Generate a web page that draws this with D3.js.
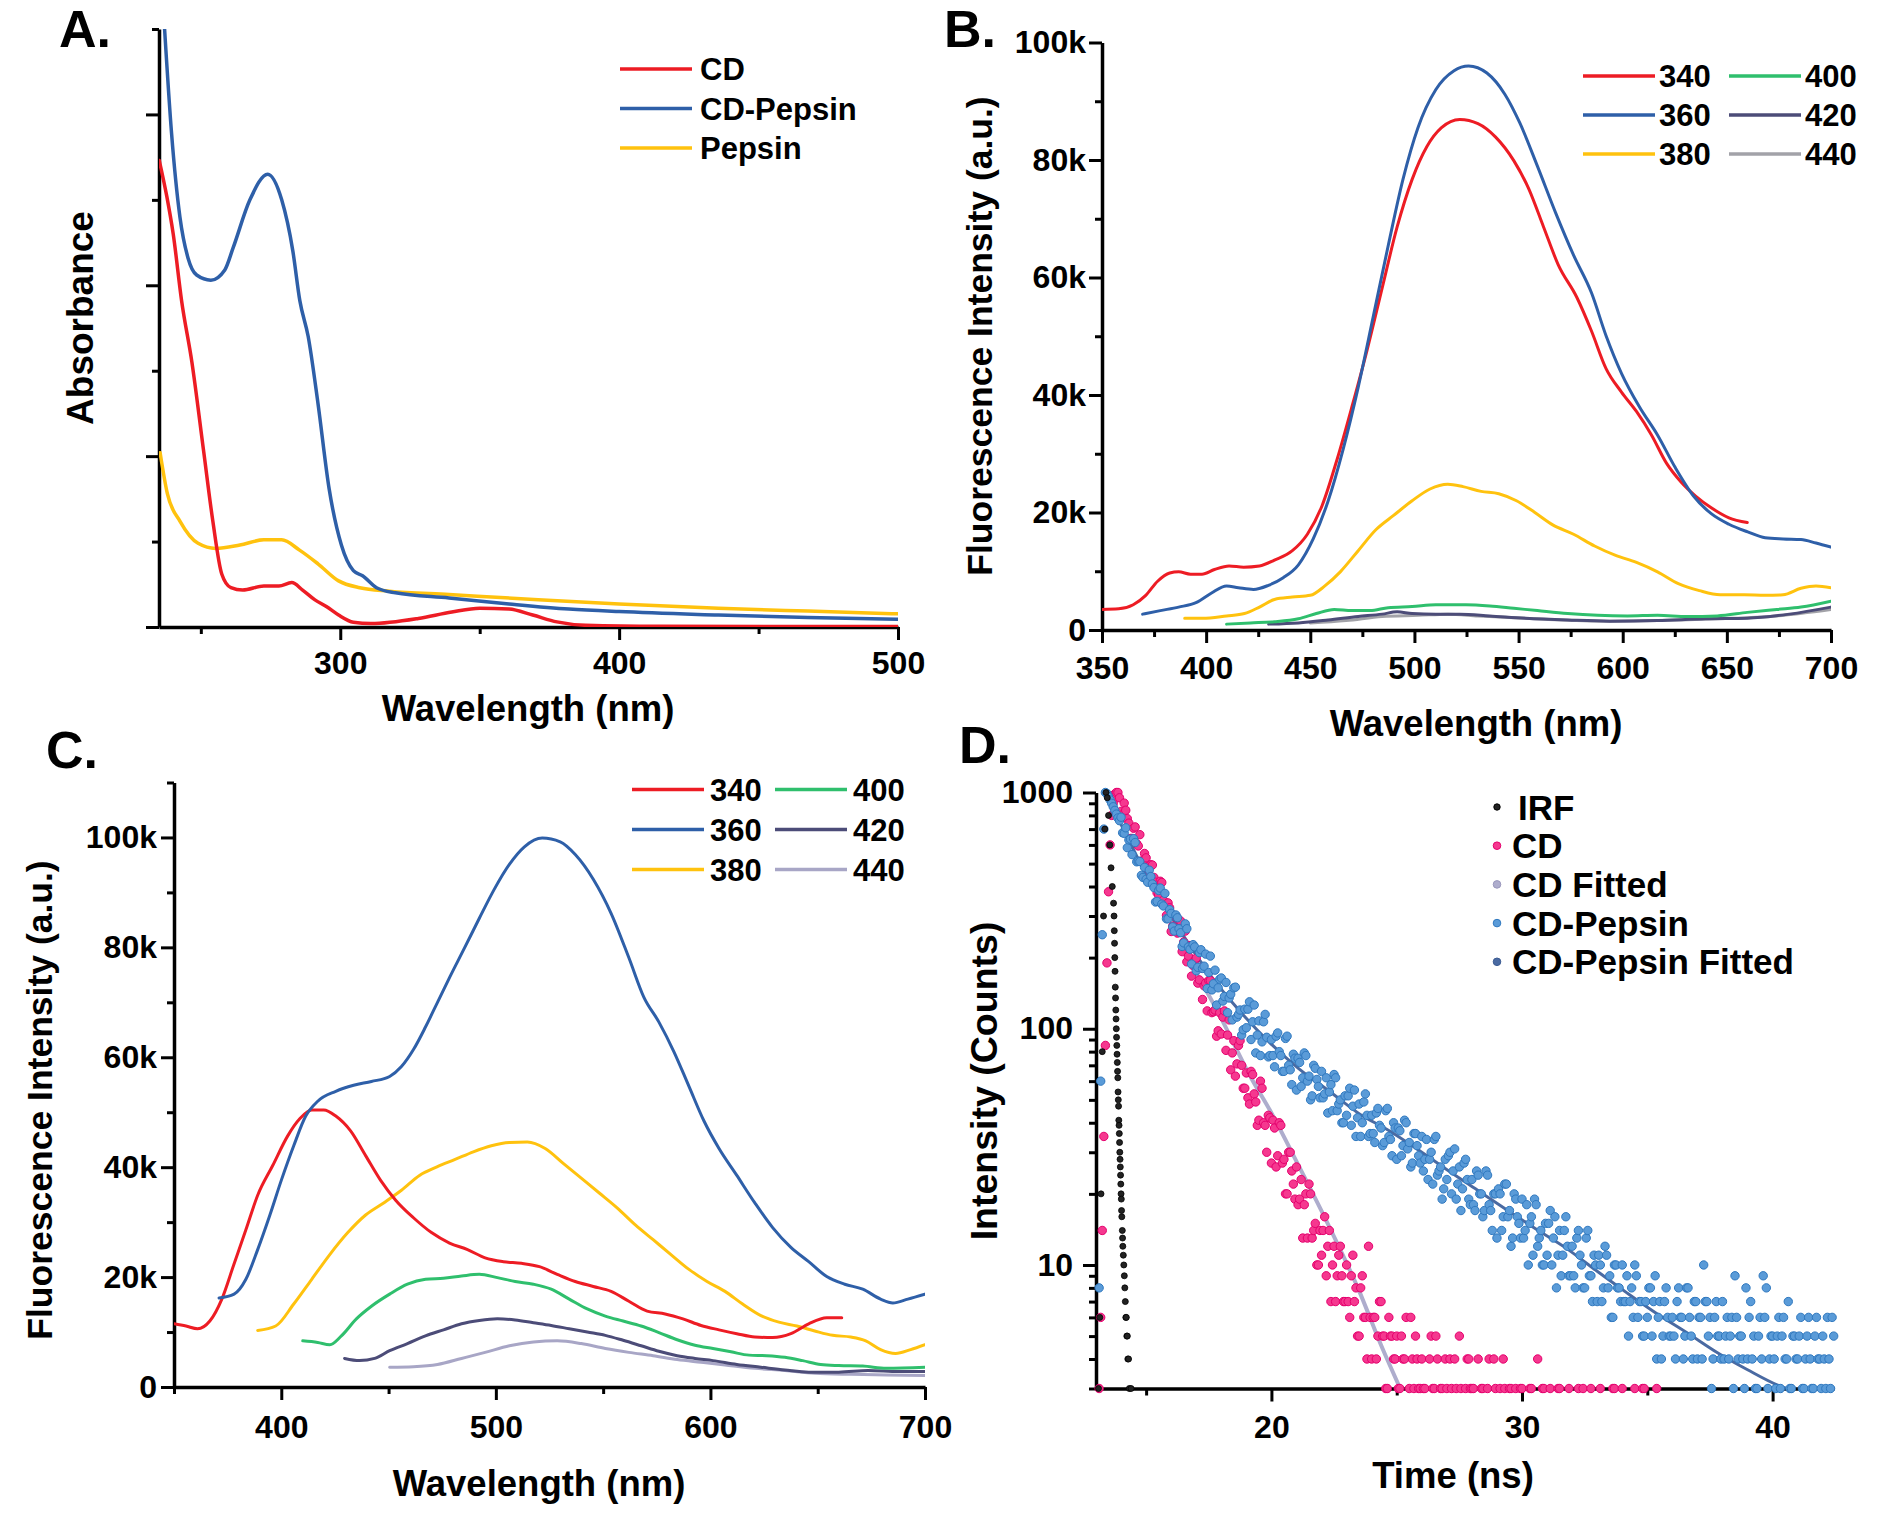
<!DOCTYPE html>
<html>
<head>
<meta charset="utf-8">
<script src="https://cdn.jsdelivr.net/npm/d3@7"></script>
<style>
  html, body { margin: 0; padding: 0; background: #fff; }
  svg { display: block; }
</style>
</head>
<body>
<script>
var FONT = "'Liberation Sans', Arial, Helvetica, sans-serif";

// ---------- panel A: absorbance (arbitrary units) ----------
var absCD = [[235.1,2.73],[237.8,2.52],[240.1,2.30],[243.1,1.91],[246.8,1.55],[251,1.03],[254.3,0.62],
  [257.5,0.31],[260.8,0.23],[265,0.216],[272.6,0.24],[278,0.24],[282.6,0.26],[286.5,0.216],[290.8,0.16],
  [295,0.12],[299.4,0.07],[304.7,0.028],[311,0.02],[328,0.05],[340,0.088],[350,0.11],[360.5,0.105],
  [369,0.07],[377.7,0.03],[388,0.01],[414,0.004],[500,0.003]];
var absCDPepsin = [[237,3.5],[239.5,2.89],[242.5,2.40],[245.4,2.16],[248.5,2.06],[253.6,2.03],[258.6,2.09],
  [261.6,2.22],[267.6,2.50],[274,2.65],[279,2.50],[283,2.20],[285.5,1.91],[288.5,1.70],[292,1.31],[296,0.81],
  [300.4,0.48],[304.7,0.33],[308,0.30],[313,0.23],[319.8,0.20],[339,0.17],[360.5,0.135],[382,0.105],
  [400,0.09],[435.6,0.07],[467.7,0.055],[500,0.045]];
var absPepsin = [[235.4,1.02],[238,0.78],[242.5,0.62],[249,0.49],[255.4,0.46],[264,0.48],[272.6,0.51],
  [279,0.51],[285.4,0.45],[292,0.37],[299.4,0.27],[307,0.23],[317.6,0.21],[339,0.19],[371,0.16],
  [400,0.135],[435.6,0.11],[467.7,0.093],[500,0.077]];

// ---------- panel B: emission at different excitation (values in k) ----------
var b340 = [[350,3.5],[358,3.6],[365,4.3],[371,5.9],[376.7,8.3],[382.5,9.7],[386.8,9.9],[392.5,9.5],[398,9.5],
  [404,10.3],[411,10.9],[418,10.7],[425.6,10.9],[432.8,11.9],[441.4,13.5],[448.6,16.3],[455.7,21.2],[463,29.2],
  [470,38],[477.3,47.7],[484.5,58.2],[491.7,68.6],[498.9,76.7],[506,82.3],[513,85.5],[521.8,86.9],[530.5,86.2],
  [539,83.9],[547.7,79.9],[554.9,75.1],[562,68.6],[569,62.2],[578,56.6],[585,50.9],[592,44.5],[599.4,40.5],
  [606.6,37.2],[613.8,33.2],[621,28.4],[628,25.2],[635,22.8],[642.5,20.8],[651,19.1],[659.8,18.3]];
var b360 = [[369.5,2.7],[378,3.3],[386.8,3.9],[395.4,4.7],[402.6,6.3],[409.8,7.5],[415.5,7.2],[422.7,6.9],
  [429.9,7.6],[437,8.9],[444.3,11.1],[451.4,15.5],[458.6,22],[465.8,30.8],[473,41.3],[480.2,53.3],[487.4,65.4],
  [494.5,76.7],[501.7,85.5],[510.3,92],[519,95.2],[526,96],[534.8,94.8],[543.4,91.2],[550.6,86.3],[559,79],
  [567.8,71],[576.4,63.8],[585,57.4],[592,50.1],[599.4,43.7],[608,38],[616.7,33.2],[625.3,27.6],[634,22.8],
  [642.5,19.8],[651,18.0],[660,16.7],[668.4,15.7],[677,15.5],[685.6,15.4],[692.8,14.8],[700,14.1]];
var b380 = [[389.7,2.0],[398.3,2.0],[409.8,2.4],[418.4,2.8],[425.6,3.9],[432.8,5.2],[441.4,5.6],[450,5.9],
  [457,7.5],[464.4,9.9],[473,13.5],[481.6,17.1],[490,19.5],[498.9,22],[507.5,24],[516,24.8],[523.3,24.4],
  [532,23.6],[540.5,23.2],[549,22],[557.8,20],[566.4,17.9],[576.4,16.3],[586.5,14.3],[596.6,12.7],[606.6,11.5],
  [616.7,9.9],[626.7,7.9],[636.8,6.7],[646.8,6.0],[658.3,6.0],[668.4,5.9],[677,6.0],[685.6,7.1],[692.8,7.5],[700,7.2]];
var b400 = [[409.8,1.0],[421.3,1.2],[432.8,1.4],[444.3,1.9],[452.9,2.8],[461.5,3.5],[470,3.3],[478.7,3.3],
  [487.4,3.8],[498.9,4.0],[510.3,4.3],[524.7,4.3],[536.2,4.1],[547.7,3.7],[559,3.3],[573.6,2.8],[588,2.5],
  [602.3,2.4],[616.7,2.5],[631,2.3],[645.4,2.4],[659.8,3.0],[674,3.5],[685.6,3.9],[700,4.9]];
var b420 = [[430,1.0],[444.3,1.2],[458.6,1.7],[473,2.3],[484.5,2.7],[491.7,3.1],[498.9,2.8],[510.3,2.7],
  [521.8,2.7],[536.2,2.4],[553.4,2.0],[573.6,1.7],[593.7,1.5],[616.7,1.6],[639.7,1.9],[659.8,2.0],[680,2.7],[700,3.9]];
var b440 = [[450,1.2],[467.2,1.6],[484.5,2.3],[501.7,2.5],[516,2.7],[530.5,2.4],[547.7,2.1],[570.7,1.7],
  [593.7,1.5],[616.7,1.6],[645.4,1.9],[674,2.4],[700,3.5]];

// ---------- panel C: emission at different excitation (values in k) ----------
var c340 = [[350,11.5],[355.6,11.1],[361,10.6],[366.7,12],[372.3,16],[377.9,22.3],[383.5,28.6],[389,34.9],
  [396,40.3],[403,45.7],[408.6,48.8],[414.2,50.4],[419.8,50.4],[425.4,49.3],[432.3,46.6],[439.3,42.1],
  [446.3,37.6],[453.3,34],[461.6,30.8],[470,28.1],[478.4,26.2],[486.8,25],[495,23.5],[503.5,22.8],[511.9,22.5],
  [520.3,21.9],[528.6,20.5],[537,19.2],[545.4,18.3],[553.7,17.4],[562,15.6],[570.5,13.8],[578.9,13.3],
  [587.2,12.4],[595.6,11.2],[604,10.4],[612.3,9.7],[620.7,9.1],[629,9.0],[637.5,9.7],[645.8,11.5],[654.2,12.6],[661.2,12.6]];
var c360 = [[371,16.2],[378,16.9],[383.5,19.6],[389,25],[394.7,31.3],[400,37.6],[405.8,43.9],[411.4,49.3],
  [417,52],[425.4,53.8],[433.7,54.9],[442,55.6],[450.5,56.5],[456,58.3],[461.6,61.4],[467.2,65.5],[472.8,70],
  [478.4,74.5],[485.4,79.9],[492.3,85.3],[499.3,90.6],[506.3,95.1],[513.3,98.3],[521.6,99.9],[530,99.2],
  [537,96.9],[545.4,92.4],[553.7,86.2],[562,78.1],[569,70.9],[576,66.4],[583,61],[590,54.7],[597,48.4],
  [604,43.4],[612.3,38.5],[620.7,33.5],[629,29],[637.5,25.4],[645.8,22.8],[654.2,20.1],[662.6,18.7],[671,17.8],
  [679.3,16],[685,15.3],[692,16],[700,16.9]];
var c380 = [[389,10.3],[397.4,11.1],[405.8,15.1],[414.2,19.6],[422.6,24.1],[431,28.1],[439.3,31.3],[447.7,33.5],
  [456,35.8],[464.4,38.5],[472.8,40.1],[481,41.4],[489.5,42.8],[497.9,43.9],[506.3,44.5],[514.7,44.6],[523,43.4],
  [531.4,40.7],[539.8,38],[548.2,35.3],[556.5,32.6],[565,29.5],[573.3,26.8],[581.6,24.1],[590,21.4],[598.4,19.2],
  [606.8,17.4],[615,15.1],[623.5,13],[631.9,11.8],[640.3,11.1],[648.6,10.2],[657,9.4],[665.4,9.1],[672.4,8.4],
  [679.3,6.8],[686.3,6.1],[693.3,6.8],[700,7.7]];
var c400 = [[410,8.4],[417,8.1],[422.6,7.7],[428,9.3],[435,12.4],[442,14.7],[450.5,16.9],[458.8,18.7],
  [467.2,19.6],[475.6,19.8],[484,20.2],[492.3,20.5],[500.7,19.9],[509,19.2],[517.5,18.7],[525.8,17.8],[534.2,16],
  [542.6,14.2],[551,12.9],[559.3,12],[567.7,11.1],[576,9.9],[584.5,8.6],[592.8,7.6],[601.2,7.0],[609.6,6.4],
  [618,5.8],[626.3,5.7],[634.7,5.4],[643,4.8],[651.4,4.1],[659.8,3.9],[671,3.8],[682,3.4],[700,3.6]];
var c420 = [[429.5,5.2],[436.5,4.8],[443.5,5.2],[450.5,6.6],[458.8,7.9],[467.2,9.3],[475.6,10.4],[484,11.5],
  [492.3,12.1],[500.7,12.4],[509,12.2],[517.5,11.7],[525.8,11.2],[534.2,10.6],[542.6,10],[551,9.4],[559.3,8.5],
  [567.7,7.5],[576,6.5],[584.5,5.7],[592.8,5.2],[601.2,4.8],[612.3,4.1],[623.5,3.6],[634.7,3.1],[645.8,2.7],
  [659.8,2.7],[673.5,3.0],[687.7,2.8],[700,2.8]];
var c440 = [[450.5,3.6],[461.6,3.7],[472.8,4.1],[484,5.2],[495,6.3],[506.3,7.5],[517.5,8.2],[528.6,8.4],
  [539.8,7.9],[551,7.0],[562,6.3],[573.3,5.7],[584.5,5.0],[595.6,4.5],[606.8,4.0],[620.7,3.4],[634.7,3.0],
  [648.6,2.5],[665.4,2.3],[682,2.2],[700,2.1]];

// ---------- panel D: decay curves ----------
var chanStart = 13.0, chanWidth = 0.0625;   // TCSPC channels, ns (16 per row = 1 ns)
var cdCounts = [
  0,0,3,6,14,35,85,190,380,600,800,900,985,1000,1000,950,
  832,806,902,841,775,742,639,639,706,715,607,594,663,513,510,552,
  529,474,440,495,493,437,417,376,368,421,416,350,333,302,341,325,
  258,272,302,300,254,257,286,212,233,259,192,203,225,167,185,194,
  199,156,161,181,133,152,156,119,160,160,117,118,120,93,98,117,
  95,112,119,81,94,109,67,79,89,63,71,85,89,70,56,56,
  65,51,48,66,64,53,49,39,41,60,56,40,39,30,43,42,
  27,41,38,26,29,40,39,27,28,20,20,30,30,25,22,19,
  26,18,19,23,13,18,20,13,22,20,13,14,15,10,10,14,
  11,14,16,9,12,14,7,10,12,7,9,11,12,9,7,7,
  10,7,6,9,11,7,8,5,5,8,9,6,6,4,12,6,
  4,6,6,4,5,7,7,5,5,3,3,6,5,5,4,4,
  5,3,3,5,4,4,6,2,3,6,4,3,5,4,3,3,
  4,3,3,2,2,4,5,3,3,5,4,2,3,3,2,4,
  3,2,4,3,2,4,3,2,5,3,2,2,3,4,4,3,
  3,3,2,2,4,1,3,3,1,2,3,4,2,2,4,3,
  2,2,3,1,4,3,2,2,3,3,1,1,3,2,2,3,
  3,1,2,2,1,3,3,1,2,2,4,2,2,3,3,1,
  1,2,3,1,2,2,2,3,3,1,1,2,2,1,3,2,
  2,1,1,2,3,1,2,3,1,2,2,1,3,2,1,1,
  2,2,3,1,1,2,2,1,1,1,3,3,2,1,1,2,
  3,1,1,2,2,1,1,2,3,1,1,1,2,3,3,1,
  1,1,2,1,1,2,3,1,1,0,0,1,2,2,1,1,
  1,1,0,0,2,1,1,1,1,2,0,1,1,0,2,1,
  0,1,1,0,1,1,0,2,2,0,1,1,0,1,1,0,
  1,0,0,1,1,0,1,1,0,0,2,1,1,0,0,1,
  0,1,1,0,0,0,1,1,1,0,0,1,1,0,0,1,
  1,0,0,1,1,0,0,0,0,1,1,0,0,1,1,0,
  0,0,1,0,0,1,0,0,1,0,0,0,1,1,0,0,
  1,0,0,0,0,1,1,0];
var pepCounts = [
  0,0,8,60,250,700,1000,990,960,930,900,870,840,810,780,760,
  786,675,672,709,584,630,635,546,638,614,509,512,510,446,437,482,
  429,417,469,441,410,396,344,346,385,394,337,331,374,292,292,319,
  308,270,259,303,295,265,255,223,231,278,265,222,217,188,227,222,
  176,182,210,216,180,184,207,148,173,203,146,155,177,126,149,162,
  164,131,137,157,117,135,140,109,149,150,112,115,120,94,99,121,
  101,121,130,90,107,126,79,94,108,77,88,107,115,92,76,77,
  90,77,69,93,96,80,77,66,66,91,93,70,67,58,78,75,
  55,75,72,57,62,79,77,60,63,50,52,70,68,61,57,51,
  66,51,53,62,44,54,58,45,64,62,45,48,50,40,40,52,
  43,52,56,39,47,55,35,42,48,35,40,49,53,43,35,36,
  43,36,33,44,46,39,38,32,33,45,46,35,34,29,40,38,
  28,38,37,29,32,41,40,31,33,26,27,36,36,32,29,27,
  35,25,28,34,23,28,30,22,34,35,24,25,26,19,21,28,
  23,29,30,20,25,31,19,22,26,17,21,27,28,23,19,18,
  23,18,17,25,24,20,20,16,17,25,24,18,17,14,20,20,
  13,21,20,14,16,22,22,16,17,12,13,20,19,16,15,13,
  19,13,14,18,10,15,16,11,19,18,12,13,14,10,10,15,
  11,15,17,10,13,16,8,11,14,9,11,14,16,12,9,9,
  12,9,8,13,14,11,10,8,8,13,14,9,9,7,11,10,
  7,11,10,7,8,12,11,8,9,6,6,10,10,8,8,7,
  10,7,7,9,5,7,8,6,10,9,6,7,7,5,5,7,
  6,8,8,5,7,9,4,6,7,4,5,7,8,6,5,5,
  6,5,4,7,8,6,6,4,5,8,8,6,5,4,7,7,
  4,6,6,4,10,7,7,5,6,3,4,6,7,5,5,4,
  7,4,5,6,4,5,6,3,9,6,4,5,5,4,3,8,
  4,6,7,4,5,3,3,5,6,4,9,6,8,3,4,5,
  5,4,3,5,6,3,5,6,4,4,7,3,3,5,5,4,
  4,5,6,3,3,4,5,6,4,3,3,5,6,4,4,3,
  5,4,3,6,4,3,6,5];
var irf = [[13.1,3],[13.15,6],[13.2,20],[13.25,80],[13.3,300],[13.35,700],[13.4,1000],[13.45,950],[13.5,800],
  [13.55,600],[13.6,480],[13.65,400],[13.7,340],[13.72,300],[13.73,260],[13.74,230],[13.75,200],[13.76,175],
  [13.77,150],[13.78,135],[13.79,120],[13.8,110],[13.81,100],[13.82,92],[13.83,85],[13.84,78],[13.85,72],
  [13.86,66],[13.87,62],[13.88,54],[13.89,50],[13.9,47],[13.91,41],[13.92,39],[13.93,36],[13.94,33],[13.95,30],
  [13.96,28],[13.97,26],[13.98,24],[13.99,22],[14.0,20],[14.01,19],[14.02,17],[14.03,16],[14.05,14],[14.06,13],
  [14.07,12],[14.09,11],[14.11,10],[14.13,9],[14.15,8],[14.17,7],[14.19,6],[14.21,6],[14.23,5],[14.25,5],
  [14.27,4],[14.3,4],[14.33,3],[14.4,3]];
var cdFit = [[16.54,210],[17.97,112],[19.16,62.8],[20.0,44],[21.08,26.4],[22.27,14.8],
  [23.47,7.9],[24.42,4.46],[25.14,3.0]];
var pepFit = [[13.35,1000],[13.9,768],[15.1,431],[16.3,266],[17.5,172],[18.7,120],[19.9,88],[21.1,67.6],
  [22.3,54.5],[23.5,43.7],[24.7,37],[25.9,30.5],[27.05,25.1],[28.2,20.8],[29.4,17.1],[30.6,14.1],[31.8,11.7],
  [33.0,9.4],[34.2,7.6],[35.4,6.2],[36.6,5.15],[37.8,4.25],[39.0,3.6],[40.2,3.1],[40.55,3.0]];

// legends / labels
var legA = ["CD", "CD-Pepsin", "Pepsin"];
var legEx = ["340", "360", "380", "400", "420", "440"];
var legD = ["IRF", "CD", "CD Fitted", "CD-Pepsin", "CD-Pepsin Fitted"];

var RED = "#ed1c24", BLUE = "#2e5fa8", YEL = "#ffc20e", GRN = "#2fbf6d", SLATE = "#4c4c78";
var colsB = [RED, BLUE, YEL, GRN, SLATE, "#a2a2a8"];
var colsC = [RED, BLUE, YEL, GRN, SLATE, "#a8a6c6"];

var W = 1878, H = 1516;
var svg = d3.select("body").append("svg").attr("width", W).attr("height", H);
svg.append("rect").attr("width", W).attr("height", H).attr("fill", "#fff");

var clipId = 0;

function styleAxis(g) {
  g.selectAll(".domain").attr("stroke", "#000").attr("stroke-width", 3.5);
  g.selectAll(".tick line").attr("stroke", "#000").attr("stroke-width", 3);
  g.selectAll(".tick text")
    .attr("fill", "#000")
    .style("font-family", FONT)
    .style("font-weight", "bold")
    .style("font-size", "32px");
}

function boldText(x, y, size, str) {
  return svg.append("text").attr("x", x).attr("y", y)
    .style("font-family", FONT).style("font-weight", "bold")
    .style("font-size", size + "px").text(str);
}

function panel(o) {
  var x = d3.scaleLinear().domain(o.xDomain).range([o.left, o.right]);
  var y = (o.log ? d3.scaleLog() : d3.scaleLinear()).domain(o.yDomain).range([o.bottom, o.top]);

  // minor ticks first
  var gxm = svg.append("g").attr("transform", "translate(0," + o.bottom + ")")
    .call(d3.axisBottom(x).tickValues(o.xMinor).tickSize(7).tickSizeOuter(0).tickFormat(""));
  gxm.select(".domain").remove();
  styleAxis(gxm);
  var gym = svg.append("g").attr("transform", "translate(" + o.left + ",0)")
    .call(d3.axisLeft(y).tickValues(o.yMinor).tickSize(7).tickSizeOuter(0).tickFormat(""));
  gym.select(".domain").remove();
  styleAxis(gym);

  var gx = svg.append("g").attr("transform", "translate(0," + o.bottom + ")")
    .call(d3.axisBottom(x).tickValues(o.xMajor).tickSize(13).tickSizeOuter(0)
      .tickPadding(o.xPad).tickFormat(o.xFmt));
  styleAxis(gx);
  var gy = svg.append("g").attr("transform", "translate(" + o.left + ",0)")
    .call(d3.axisLeft(y).tickValues(o.yMajor).tickSize(13).tickSizeOuter(0)
      .tickPadding(o.yPad).tickFormat(o.yFmt));
  styleAxis(gy);

  clipId += 1;
  svg.append("clipPath").attr("id", "clip" + clipId)
    .append("rect").attr("x", o.left).attr("y", o.top)
    .attr("width", o.right - o.left).attr("height", o.bottom - o.top);

  var plot = svg.append("g").attr("clip-path", "url(#clip" + clipId + ")");

  // titles
  boldText(o.xTitle[0], o.xTitle[1], 36.5, o.xLabel).attr("text-anchor", "middle");
  svg.append("text")
    .attr("transform", "translate(" + o.yTitle[0] + "," + o.yTitle[1] + ") rotate(-90)")
    .attr("text-anchor", "middle").attr("dy", "0.35em")
    .style("font-family", FONT).style("font-weight", "bold")
    .style("font-size", o.yTitleSize + "px").text(o.yLabel);
  boldText(o.letter[0], o.letter[1], 52, o.letterText);

  return { x: x, y: y, plot: plot };
}

function drawLine(p, data, color, width) {
  var line = d3.line()
    .x(function (d) { return p.x(d[0]); })
    .y(function (d) { return p.y(d[1]); })
    .curve(d3.curveMonotoneX);
  p.plot.append("path").datum(data)
    .attr("d", line)
    .attr("fill", "none")
    .attr("stroke", color)
    .attr("stroke-width", width)
    .attr("stroke-linejoin", "round")
    .attr("stroke-linecap", "round");
}

function legendLine(x0, x1, tx, yy, color, label, fs) {
  svg.append("line").attr("x1", x0).attr("x2", x1).attr("y1", yy).attr("y2", yy)
    .attr("stroke", color).attr("stroke-width", 3.5);
  boldText(tx, yy, fs, label).attr("dy", "0.36em");
}

function range(a, b, s) { return d3.range(a, b + s / 2, s); }

// ================= A =================
var pA = panel({
  left: 159, right: 898, top: 29, bottom: 627,
  xDomain: [235, 500], yDomain: [0, 3.5],
  xMajor: [300, 400, 500], xMinor: [250, 350, 450],
  yMajor: [0, 1, 2, 3], yMinor: [0.5, 1.5, 2.5, 3.5],
  xPad: 11, yPad: 4, xFmt: d3.format("d"), yFmt: function () { return ""; },
  xTitle: [528, 721], xLabel: "Wavelength (nm)",
  yTitle: [80, 318], yLabel: "Absorbance", yTitleSize: 37,
  letter: [59, 47], letterText: "A."
});
drawLine(pA, absPepsin, YEL, 3.5);
drawLine(pA, absCDPepsin, BLUE, 3.5);
drawLine(pA, absCD, RED, 3.5);
[RED, BLUE, YEL].forEach(function (c, i) {
  legendLine(620, 692, 700, 69 + i * 39.5, c, legA[i], 31);
});

// ================= B =================
var kFmt = function (d) { return d === 0 ? "0" : d + "k"; };
var pB = panel({
  left: 1102, right: 1831, top: 42.5, bottom: 630,
  xDomain: [350, 700], yDomain: [0, 100],
  xMajor: range(350, 700, 50), xMinor: range(375, 675, 50),
  yMajor: range(0, 100, 20), yMinor: range(10, 90, 20),
  xPad: 13, yPad: 3, xFmt: d3.format("d"), yFmt: kFmt,
  xTitle: [1476, 736], xLabel: "Wavelength (nm)",
  yTitle: [980, 336], yLabel: "Fluorescence Intensity (a.u.)", yTitleSize: 35.5,
  letter: [944, 47], letterText: "B."
});
[b440, b420, b400, b380, b340, b360].forEach(function (s, i) {
  drawLine(pB, s, [colsB[5], colsB[4], colsB[3], colsB[2], colsB[0], colsB[1]][i], 3);
});
legEx.forEach(function (lab, i) {
  var col = i < 3 ? 0 : 1, row = i % 3;
  var x0 = col === 0 ? 1583 : 1729;
  legendLine(x0, x0 + 72, x0 + 76, 76 + row * 39, colsB[i], lab, 31);
});

// ================= C =================
var pC = panel({
  left: 174, right: 925, top: 782.5, bottom: 1387,
  xDomain: [350, 700], yDomain: [0, 110],
  xMajor: [400, 500, 600, 700], xMinor: [350, 450, 550, 650],
  yMajor: range(0, 100, 20), yMinor: range(10, 110, 20),
  xPad: 15, yPad: 4, xFmt: d3.format("d"), yFmt: kFmt,
  xTitle: [539, 1496], xLabel: "Wavelength (nm)",
  yTitle: [40, 1100], yLabel: "Fluorescence Intensity (a.u.)", yTitleSize: 35.5,
  letter: [46, 768], letterText: "C."
});
[c440, c420, c400, c380, c340, c360].forEach(function (s, i) {
  drawLine(pC, s, [colsC[5], colsC[4], colsC[3], colsC[2], colsC[0], colsC[1]][i], 3);
});
legEx.forEach(function (lab, i) {
  var col = i < 3 ? 0 : 1, row = i % 3;
  var x0 = col === 0 ? 632 : 775;
  legendLine(x0, x0 + 72, x0 + 78, 789.5 + row * 40, colsC[i], lab, 31);
});

// ================= D =================
var logMinor = [];
[1, 10, 100].forEach(function (dec) {
  for (var k = 2; k <= 9; k++) if (k * dec >= 3 && k * dec < 1000) logMinor.push(k * dec);
});
var pD = panel({
  left: 1096, right: 1834, top: 792.5, bottom: 1388.5,
  xDomain: [13, 42.45], yDomain: [3, 1000], log: true,
  xMajor: [20, 30, 40], xMinor: [15, 25, 35],
  yMajor: [10, 100, 1000], yMinor: logMinor,
  xPad: 14, yPad: 10, xFmt: d3.format("d"), yFmt: d3.format("d"),
  xTitle: [1453, 1488], xLabel: "Time (ns)",
  yTitle: [984, 1081], yLabel: "Intensity (Counts)", yTitleSize: 37.5,
  letter: [959, 763], letterText: "D."
});

function chanData(arr) {
  return arr.map(function (c, i) { return [chanStart + i * chanWidth, c]; })
    .filter(function (d) { return d[1] >= 3 && d[1] <= 1000; });
}
var gD = svg.append("g");
gD.selectAll("circle.cd").data(chanData(cdCounts)).enter().append("circle")
  .attr("cx", function (d) { return pD.x(d[0]); })
  .attr("cy", function (d) { return pD.y(d[1]); })
  .attr("r", 4.2).attr("fill", "#f5388f").attr("stroke", "#e5006d").attr("stroke-width", 1);
gD.selectAll("circle.pep").data(chanData(pepCounts)).enter().append("circle")
  .attr("cx", function (d) { return pD.x(d[0]); })
  .attr("cy", function (d) { return pD.y(d[1]); })
  .attr("r", 4.2).attr("fill", "#5a9bd8").attr("stroke", "#2f78bf").attr("stroke-width", 1);
gD.selectAll("circle.irf").data(irf).enter().append("circle")
  .attr("cx", function (d) { return pD.x(d[0]); })
  .attr("cy", function (d) { return pD.y(d[1]); })
  .attr("r", 3).attr("fill", "#222").attr("stroke", "#000").attr("stroke-width", 0.8);
drawLine(pD, cdFit, "#aeadcd", 4);
drawLine(pD, pepFit, "#4a6aa2", 3);

var legDcols = [["#222", "#000"], ["#f5388f", "#e5006d"], ["#aeadcd", "#9a98bd"],
  ["#5a9bd8", "#2f78bf"], ["#4a6aa2", "#3b5b92"]];
legD.forEach(function (lab, i) {
  var yy = 807 + i * 38.7;
  svg.append("circle").attr("cx", 1497).attr("cy", yy).attr("r", i === 0 ? 3.2 : 3.8)
    .attr("fill", legDcols[i][0]).attr("stroke", legDcols[i][1]).attr("stroke-width", 1);
  boldText(i === 0 ? 1518 : 1512, yy, 35, lab).attr("dy", "0.36em");
});
</script>
</body>
</html>
